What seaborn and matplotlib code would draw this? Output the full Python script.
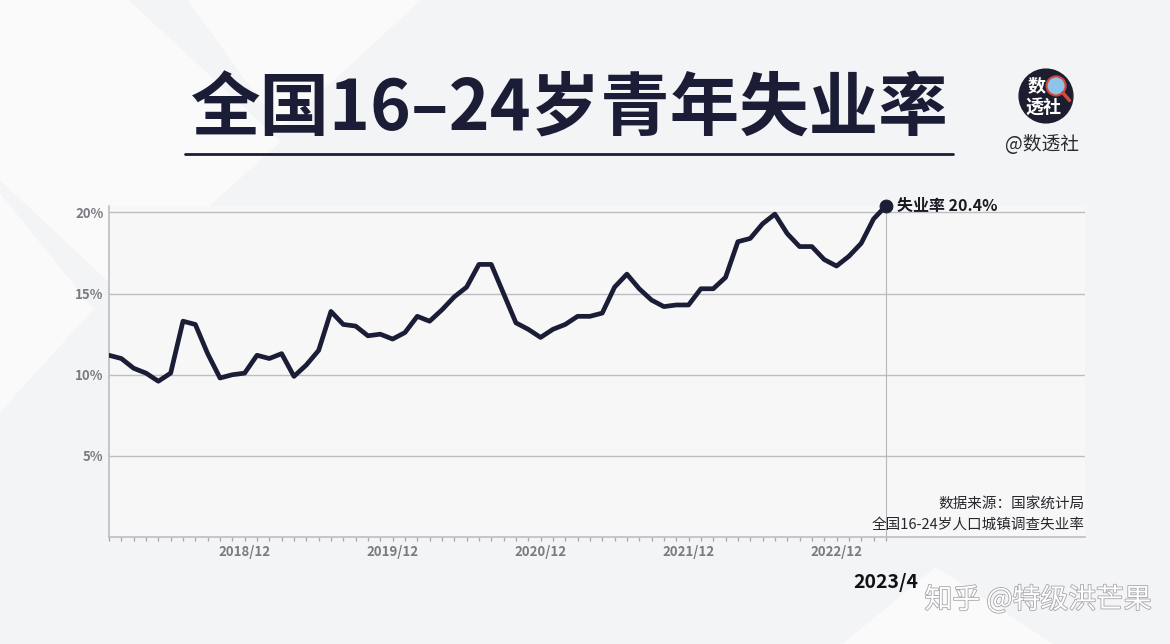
import numpy as np
import pandas as pd
import matplotlib
matplotlib.use("Agg")
import matplotlib.pyplot as plt
import matplotlib.patheffects as pe
from matplotlib.patches import Polygon, Circle
import seaborn as sns

# ---------------- data ----------------
months = [f"{y}/{m}" for y in range(2018, 2024) for m in range(1, 13)][:64]
rates = [
    11.2, 11.0, 10.4, 10.1, 9.6, 10.1, 13.3, 13.1, 11.3, 9.8, 10.0, 10.1,   # 2018
    11.2, 11.0, 11.3, 9.9, 10.6, 11.5, 13.9, 13.1, 13.0, 12.4, 12.5, 12.2,  # 2019
    12.6, 13.6, 13.3, 14.0, 14.8, 15.4, 16.8, 16.8, 15.0, 13.2, 12.8, 12.3, # 2020
    12.8, 13.1, 13.6, 13.6, 13.8, 15.4, 16.2, 15.3, 14.6, 14.2, 14.3, 14.3, # 2021
    15.3, 15.3, 16.0, 18.2, 18.4, 19.3, 19.9, 18.7, 17.9, 17.9, 17.1, 16.7, # 2022
    17.3, 18.1, 19.6, 20.4,                                                 # 2023
]
yticks = [5, 10, 15, 20]
ytick_labels = ["5%", "10%", "15%", "20%"]
xtick_labels = ["2018/12", "2019/12", "2020/12", "2021/12", "2022/12"]

title = "全国16–24岁青年失业率"
last_label = "失业率 20.4%"
last_month = "2023/4"
source_lines = ["数据来源：国家统计局", "全国16-24岁人口城镇调查失业率"]
brand = "@数透社"
watermark = "知乎 @特级洪芒果"

df = pd.DataFrame({"idx": np.arange(len(rates)), "month": months, "rate": rates})

# ---------------- style ----------------
sns.set_theme(style="white")
plt.rcParams["font.family"] = ["Noto Sans CJK SC", "DejaVu Sans"]

NAVY = "#1b1d36"
GRID = "#bdbdc2"
TICKC = "#7a7b80"
BG = "#f3f4f6"

fig = plt.figure(figsize=(11.7, 6.44), dpi=100, facecolor=BG)

# subtle background shapes (behind everything)
bg_shapes = [
    [(0.00, 1.00), (0.11, 1.00), (0.24, 0.78), (0.10, 0.55), (0.00, 0.72)],
    [(0.00, 0.70), (0.08, 0.52), (0.00, 0.36)],
    [(0.16, 1.00), (0.36, 1.00), (0.24, 0.80)],
    [(0.72, 0.00), (0.80, 0.12), (0.90, 0.00)],
]
for pts in bg_shapes:
    fig.patches.append(Polygon(pts, closed=True, transform=fig.transFigure,
                               facecolor="#fafafb", edgecolor="none", zorder=-10))

W, H = 1170, 644
def fx(px):
    return px / W
def fy(py):
    return 1 - py / H

ax = fig.add_axes([fx(109), fy(537), fx(1085) - fx(109), fy(206) - fy(537)])
ax.set_zorder(2)
ax.set_facecolor("#f7f7f8")

sns.lineplot(data=df, x="idx", y="rate", ax=ax, color=NAVY, linewidth=3.4,
             solid_joinstyle="round", solid_capstyle="round", zorder=4)
sns.scatterplot(x=[df["idx"].iloc[-1]], y=[df["rate"].iloc[-1]], ax=ax,
                color=NAVY, s=85, edgecolor=NAVY, zorder=5, legend=False, clip_on=False)

ax.set_xlim(0, 79.15)
ax.set_ylim(0, 20.4)

# grid
for v in yticks:
    ax.axhline(v, color=GRID, lw=1.0, zorder=1)
ax.axvline(df["idx"].iloc[-1], color="#b5b5ba", lw=0.8, zorder=2)

# spines
for s in ["top", "right"]:
    ax.spines[s].set_visible(False)
for s in ["left", "bottom"]:
    ax.spines[s].set_color(GRID)
    ax.spines[s].set_linewidth(1.2)

# y ticks
ax.set_yticks(yticks)
ax.set_yticklabels(ytick_labels, fontsize=9.5, fontweight="bold", color=TICKC)
ax.tick_params(axis="y", left=False, length=0, pad=4)

# x ticks: every month, labels on December
ax.set_xticks(df["idx"].tolist())
labels = []
k = 0
for m in months:
    if m.endswith("/12"):
        labels.append(xtick_labels[k]); k += 1
    else:
        labels.append("")
ax.set_xticklabels(labels, fontsize=9.5, fontweight="bold", color=TICKC)
ax.tick_params(axis="x", bottom=True, length=3, width=0.9, color="#a5a5aa",
               direction="out", pad=3)
ax.set_xlabel("")
ax.set_ylabel("")

# end-point label
ax.annotate(last_label, xy=(df["idx"].iloc[-1], df["rate"].iloc[-1]),
            xytext=(8, 0), textcoords="offset points", ha="left", va="center",
            fontsize=11.5, fontweight="bold", color="#1a1a22", zorder=6,
            annotation_clip=False)
ax.annotate(last_month, xy=(df["idx"].iloc[-1], 0), xycoords=("data", "axes fraction"),
            xytext=(0, -33), textcoords="offset points", ha="center", va="center",
            fontsize=14, fontweight="bold", color="#111118", annotation_clip=False)

# source text
fig.text(fx(1085), fy(505), source_lines[0], ha="right", va="center",
         fontsize=10.5, color="#26262c", zorder=5)
fig.text(fx(1085), fy(525), source_lines[1], ha="right", va="center",
         fontsize=10.5, color="#26262c", zorder=5)

# title + underline
fig.text(fx(570), fy(110), title, ha="center", va="center", fontsize=50,
         fontweight="heavy", color=NAVY)
fig.add_artist(plt.Line2D([fx(185), fx(953)], [fy(154), fy(154)],
                          transform=fig.transFigure, color=NAVY, lw=2))

# brand logo
logo_ax = fig.add_axes([fx(1018), fy(124), fx(56), fy(68) - fy(124)])
logo_ax.set_xlim(0, 1); logo_ax.set_ylim(0, 1); logo_ax.axis("off")
logo_ax.set_aspect("equal")
logo_ax.add_patch(Circle((0.5, 0.5), 0.48, color="#1c1d2e"))
logo_ax.add_patch(Circle((0.68, 0.68), 0.17, facecolor="#8fc3ea", edgecolor="#d24b3a", lw=1.5))
logo_ax.plot([0.8, 0.92], [0.56, 0.42], color="#d24b3a", lw=2.5, solid_capstyle="round")
logo_ax.text(0.34, 0.68, "数", ha="center", va="center", fontsize=13,
             fontweight="heavy", color="white")
logo_ax.text(0.46, 0.29, "透社", ha="center", va="center", fontsize=13,
             fontweight="heavy", color="white")
fig.text(fx(1042), fy(145), brand, ha="center", va="center", fontsize=13.5,
         color="#2a2a30")

# watermark
fig.text(fx(1038), fy(600), watermark, ha="center", va="center", fontsize=20,
         color="white", path_effects=[pe.withStroke(linewidth=1.2, foreground="#a5a5aa")])

fig.savefig("out.png", dpi=100, facecolor=fig.get_facecolor())
